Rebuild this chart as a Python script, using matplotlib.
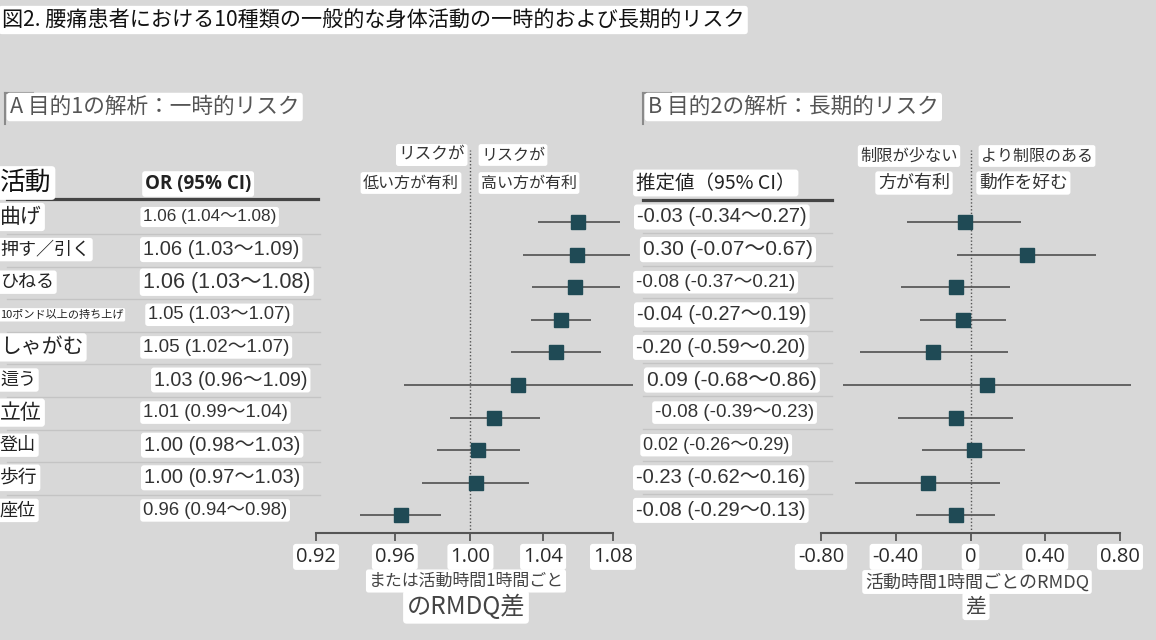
import matplotlib
matplotlib.use('Agg')
import matplotlib.pyplot as plt
from matplotlib.lines import Line2D
from matplotlib.ticker import NullLocator

plt.rcParams['font.family'] = ['Noto Sans CJK JP', 'DejaVu Sans']
NUMFONT = ['Liberation Sans', 'Noto Sans CJK JP']

## data
activities = ['曲げ', '押す／引く', 'ひねる', '10ポンド以上の持ち上げ', 'しゃがむ',
              '這う', '立位', '登山', '歩行', '座位']
or_est = [1.06, 1.06, 1.06, 1.05, 1.05, 1.03, 1.01, 1.00, 1.00, 0.96]
or_lo = [1.04, 1.03, 1.03, 1.03, 1.02, 0.96, 0.99, 0.98, 0.97, 0.94]
or_hi = [1.08, 1.09, 1.08, 1.07, 1.07, 1.09, 1.04, 1.03, 1.03, 0.98]
# positions as drawn in the figure (slightly differ from rounded labels)
or_plot = [1.060, 1.059, 1.058, 1.050, 1.047, 1.026, 1.013, 1.004, 1.003, 0.963]
or_plot_lo = [1.037, 1.029, 1.034, 1.033, 1.022, 0.965, 0.989, 0.982, 0.974, 0.942]
or_plot_hi = [1.084, 1.090, 1.084, 1.067, 1.073, 1.092, 1.038, 1.027, 1.032, 0.984]

rmdq_est = [-0.03, 0.30, -0.08, -0.04, -0.20, 0.09, -0.08, 0.02, -0.23, -0.08]
rmdq_lo = [-0.34, -0.07, -0.37, -0.27, -0.59, -0.68, -0.39, -0.26, -0.62, -0.29]
rmdq_hi = [0.27, 0.67, 0.21, 0.19, 0.20, 0.86, 0.23, 0.29, 0.16, 0.13]

or_ticks = [0.92, 0.96, 1.00, 1.04, 1.08]
rmdq_ticks = [-0.80, -0.40, 0, 0.40, 0.80]
rmdq_ticklabels = ['-0.80', '-0.40', '0', '0.40', '0.80']

## styles (per row, label sizes as in the picture)
act_size = [15, 13, 13, 8, 15, 13, 15, 13, 13.5, 13]
or_size = [12.3, 14.5, 15.5, 13.2, 13.5, 14.2, 13.4, 14.5, 14.5, 13.3]
or_x = [143, 143, 143, 148, 143, 154, 143, 144, 144, 143]
est_x = [637, 643, 636, 637, 636, 647, 655, 643, 636, 636]
est_size = [14.5, 15, 13.5, 14.5, 14.5, 15, 13.5, 13, 14.5, 14.5]

W, H = 1156, 640
BG = '#d8d8d8'
MK = '#1f4a55'
LN = '#5a5a5a'

fig = plt.figure(figsize=(W/100, H/100), dpi=100)
fig.patch.set_facecolor(BG)

WHITE = dict(boxstyle='round,pad=0.15', fc='white', ec='none')


def put(x, y, s, size, ha='left', color='#333333', **kw):
    fig.text(x/W, 1 - y/H, s, fontsize=size, ha=ha, va='center', color=color,
             bbox=WHITE, **kw)


def hline(x0, x1, y, lw, color):
    fig.add_artist(Line2D([x0/W, x1/W], [1 - y/H, 1 - y/H], lw=lw, color=color,
                          transform=fig.transFigure))


row0, step = 222, 32.6
ytop, ybot = 150, 533
ylim = ((ybot - row0)/step, (ytop - row0)/step)


def forest(left_px, right_px, x0, x1, est, lo, hi, ref, ticks, labels, log=False):
    ax = fig.add_axes([left_px/W, 1 - ybot/H, (right_px - left_px)/W, (ybot - ytop)/H])
    ax.set_facecolor('none')
    if log:
        ax.set_xscale('log')
    ax.set_xlim(x0, x1)
    ax.set_ylim(*ylim)
    rows = list(range(len(est)))
    ax.axvline(ref, color='#555555', lw=1, ls=(0, (1, 1.5)), zorder=1)
    ax.hlines(rows, lo, hi, color=LN, lw=1.3, zorder=2, clip_on=False)
    ax.plot(est, rows, 's', color=MK, ms=9.5, zorder=3, clip_on=False)
    for s in ['top', 'right', 'left']:
        ax.spines[s].set_visible(False)
    ax.spines['bottom'].set_color('#555555')
    ax.spines['bottom'].set_linewidth(1.5)
    ax.set_yticks([])
    ax.set_xticks(ticks)
    ax.xaxis.set_minor_locator(NullLocator())
    ax.set_xticklabels(labels)
    ax.tick_params(axis='x', length=6, width=1.3, color='#555555', pad=4,
                   labelsize=14.5, labelcolor='#2a2a2a')
    for t in ax.get_xticklabels():
        t.set_bbox(WHITE)
        t.set_family(['Open Sans', 'DejaVu Sans'])
    return ax


forest(316, 613, 0.92, 1.08, or_plot, or_plot_lo, or_plot_hi, 1.0,
       or_ticks, ['%.2f' % v for v in or_ticks], log=True)
forest(821, 1120, -0.8, 0.8, rmdq_est, rmdq_lo, rmdq_hi, 0.0,
       rmdq_ticks, rmdq_ticklabels)

## title and panel labels
put(2, 20, '図2. 腰痛患者における10種類の一般的な身体活動の一時的および長期的リスク', 15.2,
    color='#111111')
put(10, 107, 'A 目的1の解析：一時的リスク', 15.6, color='#555555')
put(648, 107, 'B 目的2の解析：長期的リスク', 15.6, color='#555555')
for bx in (5, 643):
    fig.add_artist(Line2D([bx/W, bx/W], [1 - 124/H, 1 - 93/H], lw=1.5, color='#8a8a8a',
                          transform=fig.transFigure))
    hline(bx, bx + 28, 93, 1.5, '#8a8a8a')

## table headers
put(0, 183, '活動', 18.5, color='#111111')
fig.text(145/W, 1 - 184/H, 'OR (95% CI)', fontsize=13.5, fontweight='bold', color='#222222',
         va='center', family=['Open Sans', 'DejaVu Sans'], bbox=WHITE)
hline(7, 318, 199, 2.3, '#444444')
put(636, 183, '推定値（95% CI）', 14, color='#222222')
hline(643, 832, 200, 2.3, '#444444')

for i in range(len(activities)):
    y = 217 + step*i
    put(0, y, activities[i], act_size[i], color='#222222')
    put(or_x[i], y, '%.2f (%.2f～%.2f)' % (or_est[i], or_lo[i], or_hi[i]), or_size[i],
        family=NUMFONT)
    put(est_x[i], y, '%.2f (%.2f～%.2f)' % (rmdq_est[i], rmdq_lo[i], rmdq_hi[i]),
        est_size[i], family=NUMFONT)
    if i < len(activities) - 1:
        hline(7, 320, 234 + step*i, 1.0, '#c4c4c4')
        hline(643, 832, 233 + step*i, 1.0, '#c4c4c4')

## direction notes
put(465, 155, 'リスクが', 12, ha='right')
put(459, 183, '低い方が有利', 11.5, ha='right')
put(481, 155, 'リスクが', 11.5)
put(481, 183, '高い方が有利', 11.5)
put(909, 156, '制限が少ない', 11.7, ha='center')
put(914, 183, '方が有利', 13, ha='center')
put(981, 156, 'より制限のある', 11.5)
put(979, 183, '動作を好む', 12.8)

## axis titles
put(466, 581, 'または活動時間1時間ごと', 12.2, ha='center', color='#444444')
put(466, 607, 'のRMDQ差', 17.5, ha='center', color='#444444')
put(977, 582, '活動時間1時間ごとのRMDQ', 13, ha='center', color='#444444')
put(976, 606, '差', 15, ha='center', color='#444444')

fig.savefig('out.png', dpi=100, facecolor=BG)
